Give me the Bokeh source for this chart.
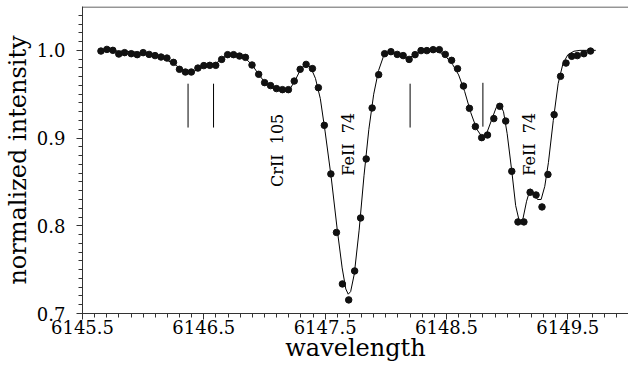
import math
from bokeh.plotting import figure
from bokeh.models import Range1d, FixedTicker, PrintfTickFormatter, Span, ColumnDataSource
from bokeh.core.properties import value
from bokeh.embed import file_html
from bokeh.resources import INLINE

# observed spectrum (points)
obs_wl = [6145.652, 6145.701, 6145.750, 6145.799, 6145.847, 6145.902, 6145.951, 6146.000,
          6146.049, 6146.098, 6146.147, 6146.196, 6146.250, 6146.299, 6146.348, 6146.397,
          6146.451, 6146.500, 6146.549, 6146.598, 6146.647, 6146.696, 6146.745, 6146.794,
          6146.843, 6146.897, 6146.952, 6147.001, 6147.050, 6147.099, 6147.148, 6147.197,
          6147.245, 6147.294, 6147.343, 6147.395, 6147.444, 6147.493, 6147.547, 6147.593,
          6147.642, 6147.694, 6147.743, 6147.792, 6147.838, 6147.887, 6147.941, 6147.990,
          6148.042, 6148.094, 6148.143, 6148.192, 6148.241, 6148.290, 6148.338, 6148.390,
          6148.441, 6148.490, 6148.542, 6148.591, 6148.640, 6148.689, 6148.738, 6148.790,
          6148.838, 6148.890, 6148.939, 6148.988, 6149.038, 6149.089, 6149.138, 6149.189,
          6149.238, 6149.287, 6149.336, 6149.387, 6149.440, 6149.485, 6149.532, 6149.578,
          6149.632, 6149.687]
obs_int = [0.9992, 1.0011, 1.0000, 0.9958, 0.9974, 0.9962, 0.9951, 0.9974,
           0.9954, 0.9940, 0.9924, 0.9912, 0.9863, 0.9784, 0.9753, 0.9753,
           0.9798, 0.9826, 0.9829, 0.9829, 0.9897, 0.9951, 0.9951, 0.9935,
           0.9920, 0.9833, 0.9727, 0.9632, 0.9598, 0.9564, 0.9552, 0.9552,
           0.9650, 0.9784, 0.9840, 0.9792, 0.9575, 0.9145, 0.8591, 0.7924,
           0.7337, 0.7155, 0.7485, 0.8089, 0.8762, 0.9343, 0.9723, 0.9962,
           0.9985, 0.9954, 0.9940, 0.9897, 0.9951, 0.9997, 0.9997, 1.0008,
           1.0008, 0.9954, 0.9886, 0.9791, 0.9593, 0.9339, 0.9131, 0.9005,
           0.9035, 0.9222, 0.9362, 0.9194, 0.8621, 0.8044, 0.8044, 0.8382,
           0.8351, 0.8215, 0.8585, 0.9267, 0.9704, 0.9855, 0.9932, 0.9940,
           0.9962, 0.9992]

# synthetic spectrum (solid curve)
syn_wl = [6145.65, 6145.75, 6145.85, 6145.95, 6146.05, 6146.15, 6146.25, 6146.30, 6146.35,
          6146.40, 6146.45, 6146.50, 6146.55, 6146.60, 6146.65, 6146.70, 6146.75, 6146.80,
          6146.85, 6146.90, 6146.95, 6147.00, 6147.05, 6147.10, 6147.15, 6147.20, 6147.25,
          6147.30, 6147.34, 6147.38, 6147.42, 6147.46, 6147.50, 6147.55, 6147.60, 6147.64,
          6147.67, 6147.69, 6147.71, 6147.74, 6147.78, 6147.82, 6147.86, 6147.90, 6147.94,
          6147.98, 6148.02, 6148.06, 6148.10, 6148.15, 6148.20, 6148.25, 6148.30, 6148.35,
          6148.40, 6148.45, 6148.50, 6148.55, 6148.60, 6148.65, 6148.70, 6148.75, 6148.79,
          6148.83, 6148.87, 6148.91, 6148.94, 6148.97, 6149.00, 6149.04, 6149.07, 6149.10,
          6149.13, 6149.16, 6149.19, 6149.22, 6149.25, 6149.28, 6149.31, 6149.34, 6149.38,
          6149.42, 6149.46, 6149.50, 6149.55, 6149.60, 6149.73]
syn_int = [1.000, 0.9995, 0.999, 0.998, 0.996, 0.992, 0.985, 0.980, 0.976,
           0.975, 0.978, 0.981, 0.983, 0.985, 0.991, 0.995, 0.995, 0.993,
           0.990, 0.983, 0.973, 0.964, 0.958, 0.955, 0.953, 0.954, 0.965,
           0.979, 0.984, 0.981, 0.968, 0.945, 0.907, 0.855, 0.795, 0.752,
           0.728, 0.722, 0.725, 0.745, 0.795, 0.857, 0.910, 0.950, 0.977,
           0.993, 0.998, 0.997, 0.994, 0.991, 0.992, 0.996, 0.999, 1.000,
           1.000, 0.997, 0.992, 0.984, 0.972, 0.953, 0.929, 0.910, 0.902,
           0.905, 0.920, 0.935, 0.939, 0.930, 0.905, 0.860, 0.823, 0.805,
           0.808, 0.828, 0.842, 0.838, 0.830, 0.830, 0.845, 0.872, 0.920,
           0.962, 0.985, 0.995, 0.999, 1.000, 1.000]

# line markers
mark_wl = [6146.37, 6146.58, 6148.20, 6148.80]
mark_top = [0.962, 0.962, 0.962, 0.963]
mark_bot = [0.912, 0.912, 0.912, 0.913]

# line identifications
id_text = ["CrII\u00a0\u00a0105", "FeII\u00a0\u00a074", "FeII\u00a0\u00a074"]
id_wl = [6147.107, 6147.694, 6149.187]
id_int = [0.886, 0.893, 0.893]

x_major = [6145.5, 6146.5, 6147.5, 6148.5, 6149.5]
x_minor = [round(6145.5 + 0.1 * i, 1) for i in range(46)]
y_major = [0.7, 0.8, 0.9, 1.0]
y_minor = [round(0.70 + 0.01 * i, 2) for i in range(35)]

X0, X1 = 6145.5, 6150.0
Y0, Y1 = 0.7, 1.05

FONT = "DejaVu Serif"

p = figure(width=628, height=366, output_backend="svg", toolbar_location=None,
           x_range=Range1d(X0, X1), y_range=Range1d(Y0, Y1),
           min_border_left=77, min_border_right=0, min_border_top=6, min_border_bottom=53)
p.grid.visible = False
p.outline_line_color = None
p.background_fill_color = "white"
p.border_fill_color = "white"

for ax in (p.xaxis[0], p.yaxis[0]):
    ax.axis_line_color = "#333333"
    ax.major_tick_line_color = "#333333"
    ax.minor_tick_line_color = "#333333"
    ax.major_tick_in = 0
    ax.major_tick_out = 6
    ax.minor_tick_in = 0
    ax.minor_tick_out = 4
    ax.major_label_text_font = FONT
    ax.major_label_text_font_size = "18px"
    ax.major_label_text_color = "black"
    ax.axis_label_text_font = FONT
    ax.axis_label_text_font_size = "24px"
    ax.axis_label_text_font_style = "normal"
    ax.axis_label_text_color = "black"

p.xaxis.ticker = FixedTicker(ticks=x_major, minor_ticks=x_minor)
p.yaxis.ticker = FixedTicker(ticks=y_major, minor_ticks=y_minor)
p.xaxis.formatter = PrintfTickFormatter(format="%.1f")
p.yaxis.formatter = PrintfTickFormatter(format="%.1f")
p.xaxis.axis_label = "wavelength"
p.yaxis.axis_label = "normalized intensity"
p.xaxis.major_label_standoff = 0
p.xaxis.axis_label_standoff = -3
p.yaxis.major_label_standoff = 11
p.yaxis.axis_label_standoff = 2

p.add_layout(Span(location=Y1 - 0.0006, dimension="width", line_color="#333333", line_width=1))

p.line(syn_wl, syn_int, line_color="black", line_width=1)
p.scatter(obs_wl, obs_int, size=6.5, fill_color="#111111", line_color="#111111")
p.segment(x0=mark_wl, y0=mark_bot, x1=mark_wl, y1=mark_top, line_color="black", line_width=1)

src = ColumnDataSource(dict(x=id_wl, y=id_int, t=id_text))
p.text(x="x", y="y", text="t", source=src, angle=math.pi / 2, text_align="center",
       text_baseline="middle", text_font=value(FONT), text_font_size="16px", text_color="black")

open("out.html", "w").write(file_html(p, INLINE))
